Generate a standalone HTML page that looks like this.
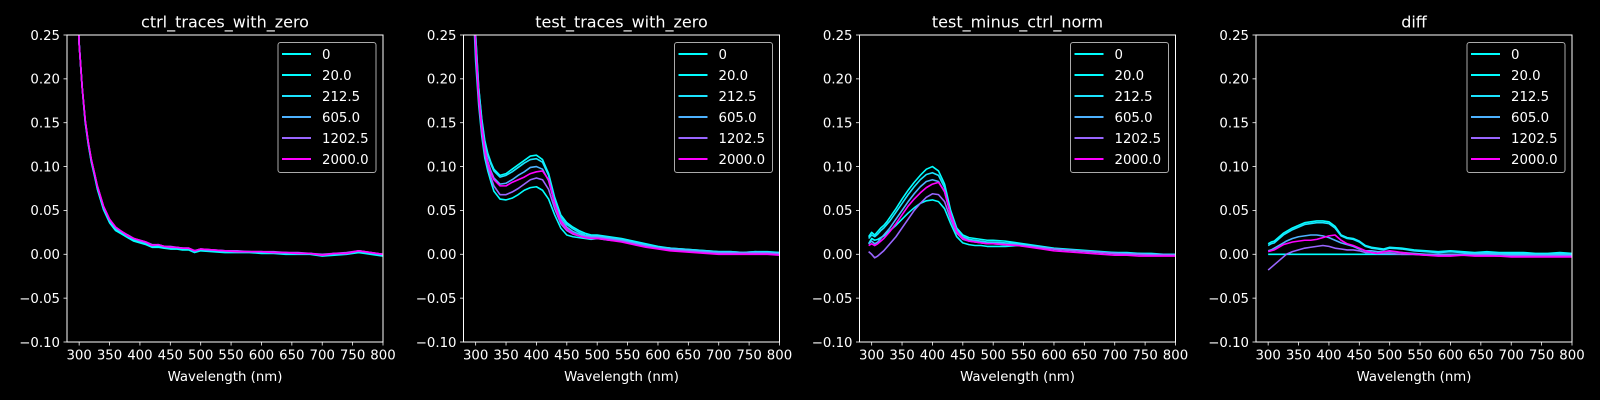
<!DOCTYPE html>
<html><head><meta charset="utf-8">
<style>
html,body{margin:0;padding:0;background:#000;}
svg{display:block;font-family:"DejaVu Sans","Liberation Sans",sans-serif;}
</style></head>
<body>
<svg id="fig" width="1600" height="400" viewBox="0 0 1600 400" xmlns="http://www.w3.org/2000/svg">
<rect x="0" y="0" width="1600" height="400" fill="#000"/>
</svg>
<script>
const wavelengths = [295,300,305,310,315,320,325,330,340,350,360,370,380,390,400,410,420,430,440,450,460,470,480,490,500,520,540,560,580,600,620,640,660,680,700,720,740,760,780,800];
const seriesLabels = ["0","20.0","212.5","605.0","1202.5","2000.0"];
const seriesColors = ["#00ffff","#02fdff","#1be4ff","#4db2ff","#9966ff","#ff00ff"];
const panelTitles = ["ctrl_traces_with_zero","test_traces_with_zero","test_minus_ctrl_norm","diff"];
const xTicks = [300,350,400,450,500,550,600,650,700,750,800];
const yTicks = [-0.10,-0.05,0.00,0.05,0.10,0.15,0.20,0.25];
const yTickLabels = ["\u22120.10","\u22120.05","0.00","0.05","0.10","0.15","0.20","0.25"];

// panel 1: ctrl
const ctrl0 = [0.33,0.24,0.19,0.15,0.125,0.105,0.09,0.074,0.051,0.036,0.027,0.023,0.019,0.015,0.013,0.011,0.008,0.008,0.007,0.006,0.006,0.005,0.005,0.002,0.004,0.003,0.002,0.002,0.002,0.001,0.001,0.0,0.0,0.0,-0.002,-0.001,0.0,0.002,0.0,-0.002];
const ctrl1 = [0.33,0.24,0.19,0.151,0.126,0.106,0.091,0.075,0.052,0.037,0.028,0.024,0.02,0.016,0.014,0.012,0.009,0.009,0.008,0.007,0.007,0.006,0.006,0.003,0.005,0.004,0.003,0.003,0.003,0.002,0.002,0.001,0.001,0.001,-0.001,0.0,0.001,0.003,0.001,-0.001];
const ctrl2 = [0.33,0.24,0.19,0.152,0.127,0.107,0.092,0.076,0.053,0.038,0.029,0.025,0.021,0.017,0.015,0.013,0.01,0.01,0.008,0.008,0.007,0.007,0.006,0.003,0.005,0.004,0.003,0.003,0.003,0.002,0.002,0.001,0.001,0.001,-0.001,0.0,0.001,0.003,0.001,-0.001];
const ctrl3 = [0.33,0.24,0.19,0.152,0.127,0.108,0.093,0.077,0.054,0.039,0.03,0.026,0.021,0.018,0.015,0.013,0.01,0.011,0.009,0.008,0.008,0.007,0.007,0.004,0.006,0.005,0.004,0.003,0.003,0.003,0.002,0.002,0.001,0.001,-0.001,0.001,0.001,0.004,0.002,0.0];
const ctrl4 = [0.33,0.24,0.19,0.153,0.128,0.108,0.093,0.078,0.055,0.04,0.031,0.026,0.022,0.018,0.016,0.014,0.011,0.011,0.009,0.009,0.008,0.007,0.007,0.004,0.006,0.005,0.004,0.004,0.003,0.003,0.003,0.002,0.002,0.001,0.0,0.001,0.002,0.004,0.002,0.0];
const ctrl5 = [0.33,0.24,0.19,0.153,0.128,0.108,0.093,0.078,0.055,0.04,0.031,0.026,0.021,0.018,0.016,0.014,0.01,0.011,0.009,0.008,0.008,0.007,0.007,0.004,0.006,0.005,0.004,0.003,0.003,0.003,0.002,0.002,0.001,0.001,-0.001,0.001,0.001,0.004,0.002,0.0];

// panel 2: test
const test0 = [0.33,0.25,0.19,0.155,0.13,0.115,0.105,0.097,0.09,0.092,0.097,0.102,0.107,0.112,0.113,0.108,0.092,0.065,0.045,0.036,0.031,0.027,0.024,0.022,0.022,0.02,0.018,0.015,0.012,0.009,0.007,0.006,0.005,0.004,0.003,0.003,0.002,0.003,0.003,0.002];
const test1 = [0.30,0.22,0.17,0.135,0.11,0.095,0.083,0.072,0.063,0.062,0.064,0.068,0.073,0.076,0.077,0.073,0.063,0.045,0.03,0.022,0.02,0.019,0.018,0.017,0.018,0.016,0.015,0.014,0.011,0.008,0.007,0.005,0.004,0.003,0.002,0.002,0.001,0.002,0.002,0.001];
const test2 = [0.33,0.25,0.19,0.153,0.128,0.113,0.103,0.095,0.088,0.09,0.094,0.099,0.104,0.108,0.109,0.105,0.09,0.063,0.043,0.034,0.029,0.025,0.022,0.021,0.021,0.019,0.017,0.014,0.011,0.008,0.007,0.006,0.005,0.004,0.003,0.003,0.002,0.003,0.002,0.002];
const test3 = [0.32,0.24,0.18,0.147,0.122,0.106,0.095,0.087,0.08,0.081,0.085,0.09,0.094,0.099,0.1,0.097,0.084,0.058,0.04,0.031,0.026,0.023,0.021,0.02,0.02,0.018,0.016,0.013,0.01,0.007,0.006,0.005,0.004,0.003,0.002,0.002,0.002,0.002,0.002,0.001];
const test4 = [0.31,0.23,0.175,0.14,0.115,0.1,0.088,0.078,0.068,0.068,0.071,0.075,0.08,0.085,0.087,0.085,0.074,0.052,0.035,0.027,0.023,0.021,0.02,0.019,0.019,0.017,0.015,0.012,0.009,0.007,0.005,0.004,0.003,0.002,0.001,0.001,0.001,0.001,0.001,0.0];
const test5 = [0.32,0.24,0.18,0.145,0.12,0.105,0.093,0.085,0.078,0.078,0.082,0.085,0.088,0.092,0.094,0.095,0.085,0.058,0.038,0.029,0.024,0.021,0.019,0.018,0.018,0.016,0.014,0.011,0.008,0.006,0.004,0.003,0.002,0.001,0.0,0.0,0.0,0.0,0.0,-0.001];

// panel 3: test minus ctrl norm
const norm0 = [0.02,0.025,0.022,0.026,0.03,0.033,0.037,0.042,0.052,0.063,0.073,0.082,0.09,0.097,0.1,0.095,0.08,0.05,0.03,0.022,0.019,0.018,0.017,0.016,0.016,0.015,0.013,0.011,0.009,0.007,0.006,0.005,0.004,0.003,0.002,0.002,0.001,0.001,0.0,0.0];
const norm1 = [0.012,0.018,0.016,0.017,0.019,0.021,0.024,0.027,0.033,0.04,0.047,0.053,0.058,0.061,0.062,0.06,0.052,0.035,0.02,0.013,0.011,0.01,0.01,0.009,0.009,0.009,0.01,0.009,0.008,0.006,0.005,0.004,0.003,0.002,0.001,0.001,0.0,0.0,-0.001,0.0];
const norm2 = [0.018,0.022,0.02,0.023,0.027,0.03,0.034,0.038,0.048,0.058,0.068,0.077,0.085,0.091,0.093,0.09,0.076,0.047,0.028,0.02,0.017,0.016,0.015,0.014,0.014,0.013,0.012,0.01,0.008,0.006,0.005,0.004,0.003,0.002,0.002,0.001,0.001,0.0,0.0,0.0];
const norm3 = [0.012,0.015,0.012,0.014,0.018,0.022,0.026,0.03,0.04,0.05,0.06,0.069,0.077,0.083,0.085,0.083,0.071,0.045,0.027,0.019,0.016,0.015,0.014,0.013,0.013,0.012,0.011,0.009,0.008,0.006,0.005,0.004,0.003,0.002,0.001,0.001,0.0,0.0,0.0,-0.001];
const norm4 = [0.003,0.0,-0.004,-0.002,0.001,0.004,0.008,0.012,0.02,0.03,0.04,0.05,0.058,0.065,0.069,0.068,0.06,0.04,0.024,0.017,0.015,0.014,0.013,0.012,0.012,0.011,0.01,0.009,0.007,0.006,0.005,0.004,0.003,0.002,0.001,0.0,0.0,-0.001,-0.001,-0.001];
const norm5 = [0.01,0.012,0.01,0.012,0.015,0.018,0.022,0.026,0.035,0.045,0.055,0.063,0.07,0.076,0.08,0.082,0.072,0.045,0.026,0.018,0.015,0.014,0.013,0.012,0.012,0.011,0.01,0.008,0.006,0.004,0.003,0.002,0.001,0.0,-0.001,-0.001,-0.002,-0.002,-0.002,-0.002];

// panel 4: diff (null = no data)
const diff0 = [null,0,0,0,0,0,0,0,0,0,0,0,0,0,0,0,0,0,0,0,0,0,0,0,0,0,0,0,0,0,0,0,0,0,0,0,0,0,0,0];
const diff1 = [null,0.012,0.014,0.015,0.018,0.021,0.024,0.026,0.03,0.033,0.036,0.037,0.038,0.038,0.037,0.032,0.022,0.019,0.018,0.015,0.01,0.008,0.007,0.006,0.008,0.007,0.005,0.004,0.003,0.004,0.003,0.002,0.003,0.002,0.002,0.002,0.001,0.001,0.002,0.001];
const diff2 = [null,0.01,0.012,0.013,0.016,0.019,0.022,0.024,0.028,0.031,0.034,0.035,0.036,0.036,0.035,0.03,0.021,0.018,0.017,0.014,0.009,0.007,0.006,0.005,0.007,0.006,0.004,0.003,0.002,0.003,0.002,0.001,0.002,0.001,0.001,0.001,0.0,0.0,0.001,0.0];
const diff3 = [null,0.004,0.005,0.007,0.009,0.011,0.013,0.015,0.018,0.02,0.021,0.022,0.022,0.021,0.019,0.016,0.013,0.011,0.009,0.006,0.004,0.004,0.003,0.003,0.003,0.002,0.001,0.0,0.0,0.0,0.0,0.0,0.0,0.0,-0.001,-0.001,-0.001,-0.001,-0.001,-0.001];
const diff4 = [null,-0.018,-0.015,-0.012,-0.009,-0.006,-0.003,0.0,0.003,0.005,0.007,0.008,0.009,0.01,0.009,0.007,0.006,0.005,0.005,0.004,0.002,0.002,0.001,0.001,0.001,0.0,0.0,-0.001,-0.001,-0.001,-0.001,-0.001,-0.001,-0.002,-0.002,-0.002,-0.002,-0.002,-0.002,-0.002];
const diff5 = [null,0.003,0.004,0.005,0.007,0.009,0.011,0.012,0.014,0.015,0.016,0.016,0.017,0.019,0.021,0.022,0.016,0.012,0.01,0.007,0.004,0.002,0.001,0.003,0.004,0.002,0.0,-0.001,-0.002,-0.002,-0.001,-0.002,-0.002,-0.002,-0.003,-0.003,-0.003,-0.003,-0.003,-0.003];

const panelSeries = [
  [ctrl0,ctrl1,ctrl2,ctrl3,ctrl4,ctrl5],
  [test0,test1,test2,test3,test4,test5],
  [norm0,norm1,norm2,norm3,norm4,norm5],
  [diff0,diff1,diff2,diff3,diff4,diff5]
];

const NS = "http://www.w3.org/2000/svg";
const svg = document.getElementById('fig');
const panelLefts = [67,463.5,859.5,1256];
const PW = 316, TOP = 35, BOT = 342;
const XMIN = 280, XMAX = 800, YMIN = -0.10, YMAX = 0.25;

function mk(tag, attrs, parent){
  const e = document.createElementNS(NS, tag);
  for (const k in attrs) e.setAttribute(k, attrs[k]);
  (parent||svg).appendChild(e);
  return e;
}

panelTitles.forEach((title, p) => {
  const L = panelLefts[p];
  const xs = v => L + (v - XMIN) / (XMAX - XMIN) * PW;
  const ys = v => BOT - (v - YMIN) / (YMAX - YMIN) * (BOT - TOP);
  const g = mk('g', {});
  
  
  const cid = 'clip' + p;
  const cp = mk('clipPath', {id: cid}, g);
  mk('rect', {x: L, y: TOP, width: PW, height: BOT - TOP}, cp);

  // series
  const sg = mk('g', {'clip-path': 'url(#' + cid + ')'}, g);
  panelSeries[p].forEach((arr, s) => {
    let d = '';
    let started = false;
    arr.forEach((v, i) => {
      if (v === null) { started = false; return; }
      d += (started ? 'L' : 'M') + xs(wavelengths[i]).toFixed(2) + ',' + ys(v).toFixed(2);
      started = true;
    });
    const path = mk('path', {d: d, fill: 'none', stroke: seriesColors[s], 'stroke-width': 1.6, 'stroke-linejoin': 'round'}, sg);
    
    
  });

  // frame
  const fr = mk('rect', {x: L, y: TOP, width: PW, height: BOT - TOP, fill: 'none', stroke: '#fff', 'stroke-width': 1}, g);
  
  

  // x ticks
  xTicks.forEach(t => {
    const x = xs(t);
    mk('line', {x1: x, x2: x, y1: BOT, y2: BOT + 3.5, stroke: '#fff', 'stroke-width': 0.8}, g);
    const tx = mk('text', {x: x, y: BOT + 17.5, fill: '#fff', 'font-size': 13.3, 'text-anchor': 'middle'}, g);
    tx.textContent = String(t);
    
    
  });
  // y ticks
  yTicks.forEach((t, i) => {
    const y = ys(t);
    mk('line', {x1: L - 3.5, x2: L, y1: y, y2: y, stroke: '#fff', 'stroke-width': 0.8}, g);
    const ty = mk('text', {x: L - 7, y: y + 4.8, fill: '#fff', 'font-size': 13.3, 'text-anchor': 'end'}, g);
    ty.textContent = yTickLabels[i];
    
    
  });
  // x label
  const xl = mk('text', {x: L + PW / 2, y: BOT + 39, fill: '#fff', 'font-size': 13.3, 'text-anchor': 'middle'}, g);
  xl.textContent = 'Wavelength (nm)';
  
  
  // title
  const tt = mk('text', {x: L + PW / 2, y: 27.5, fill: '#fff', 'font-size': 16, 'text-anchor': 'middle'}, g);
  tt.textContent = title;
  
  

  // legend
  const lg = mk('g', {}, g);
  
  
  const lx = L + PW - 7 - 98, ly = 42.5;
  mk('rect', {x: lx, y: ly, width: 98, height: 130, rx: 2.5, fill: '#000', 'fill-opacity': 0.8, stroke: '#aaa', 'stroke-width': 1}, lg);
  seriesLabels.forEach((lab, s) => {
    const cy = ly + 11.5 + s * 21;
    const e = mk('g', {}, lg);
    
    
    mk('line', {x1: lx + 4, x2: lx + 33, y1: cy, y2: cy, stroke: seriesColors[s], 'stroke-width': 2}, e);
    const t = mk('text', {x: lx + 44, y: cy + 4.8, fill: '#fff', 'font-size': 13.3}, e);
    t.textContent = lab;
  });
});
</script>
</body></html>
